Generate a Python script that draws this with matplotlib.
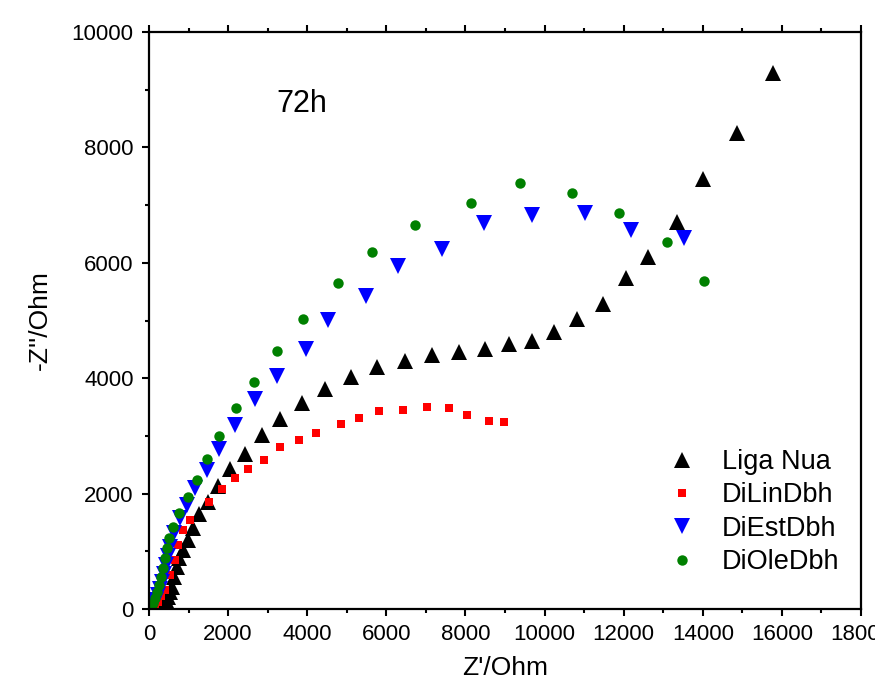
import matplotlib
matplotlib.use("Agg")
import matplotlib.pyplot as plt
from matplotlib.ticker import MultipleLocator

plt.rcParams['font.family'] = ['Liberation Sans', 'DejaVu Sans']

# Liga Nua (black up-triangles)
liga_x = [278, 354, 430, 480, 531, 581, 632, 708, 758, 860, 986, 1112, 1264, 1492,
          1744, 2048, 2427, 2857, 3312, 3868, 4449, 5107, 5764, 6472, 7154, 7837,
          8494, 9101, 9682, 10238, 10820, 11477, 12059, 12615, 13348, 14005, 14865, 15775]
liga_y = [17, 87, 156, 208, 295, 381, 555, 728, 884, 1023, 1196, 1404, 1647, 1854,
          2132, 2426, 2686, 3015, 3292, 3570, 3813, 4021, 4194, 4298, 4402, 4454,
          4506, 4592, 4644, 4800, 5026, 5286, 5736, 6100, 6707, 7452, 8249, 9289]

# DiLinDbh (red squares)
lin_x = [152, 228, 303, 404, 531, 657, 733, 860, 1036, 1517, 1845, 2174, 2503, 2907,
         3312, 3792, 4222, 4854, 5309, 5814, 6421, 7030, 7584, 8039, 8595, 8974]
lin_y = [52, 121, 225, 329, 589, 849, 1109, 1369, 1542, 1854, 2080, 2270, 2426, 2582,
         2807, 2929, 3050, 3206, 3310, 3431, 3449, 3501, 3483, 3362, 3258, 3241]

# DiEstDbh (blue down-triangles)
est_x = [76, 126, 177, 228, 278, 329, 379, 430, 480, 531, 632, 784, 961, 1163, 1466,
         1770, 2174, 2680, 3236, 3969, 4525, 5486, 6295, 7407, 8469, 9682, 11022,
         12185, 13513]
est_y = [35, 87, 156, 243, 347, 468, 607, 763, 918, 1074, 1317, 1577, 1802, 2097, 2409,
         2773, 3189, 3639, 4038, 4506, 5008, 5424, 5944, 6239, 6689, 6828, 6863,
         6568, 6429]

# DiOleDbh (green circles)
ole_x = [51, 101, 152, 202, 253, 303, 354, 404, 455, 506, 607, 758, 986, 1213, 1466,
         1770, 2199, 2654, 3236, 3893, 4778, 5637, 6725, 8140, 9379, 10693, 11882,
         13096, 14031]
ole_y = [35, 104, 191, 295, 416, 555, 711, 884, 1057, 1230, 1421, 1664, 1941, 2236, 2600,
         2998, 3483, 3934, 4471, 5026, 5650, 6187, 6655, 7036, 7383, 7209, 6863,
         6360, 5684]

labels = ['Liga Nua', 'DiLinDbh', 'DiEstDbh', 'DiOleDbh']

fig = plt.figure(figsize=(8.75, 6.95), dpi=100)
ax = fig.add_axes([149/875, 1-609/695, 712/875, 577/695])

ax.plot(liga_x, liga_y, ls='none', marker='^', ms=11, color='black', mew=0, label=labels[0])
ax.plot(lin_x, lin_y, ls='none', marker='s', ms=6, color='#ff0000', mew=0, label=labels[1])
ax.plot(est_x, est_y, ls='none', marker='v', ms=11, color='#0000ff', mew=0, label=labels[2])
ax.plot(ole_x, ole_y, ls='none', marker='o', ms=7.5, color='#008000', mew=0, label=labels[3])

ax.set_xlim(0, 18000)
ax.set_ylim(0, 10000)
ax.xaxis.set_major_locator(MultipleLocator(2000))
ax.xaxis.set_minor_locator(MultipleLocator(1000))
ax.yaxis.set_major_locator(MultipleLocator(2000))
ax.yaxis.set_minor_locator(MultipleLocator(1000))
ax.tick_params(axis='both', which='major', direction='out', length=5, width=1.5,
               labelsize=16, pad=6)
ax.tick_params(axis='both', which='minor', direction='out', length=3, width=1.5)
ax.tick_params(axis='x', which='both', top=True)
for s in ax.spines.values():
    s.set_linewidth(1.6)

ax.set_xlabel("Z'/Ohm", fontsize=19, labelpad=8)
ax.set_ylabel("-Z''/Ohm", fontsize=19, labelpad=14)

ax.text(0.215, 0.875, '72h', transform=ax.transAxes, fontsize=22, ha='center', va='center')

ax.legend(loc='upper left', bbox_to_anchor=(0.729, 0.277), frameon=False, fontsize=19.5,
          borderpad=0, handlelength=1.0, handletextpad=1.0, labelspacing=0.27,
          borderaxespad=0)

fig.savefig('out.png', dpi=100)
